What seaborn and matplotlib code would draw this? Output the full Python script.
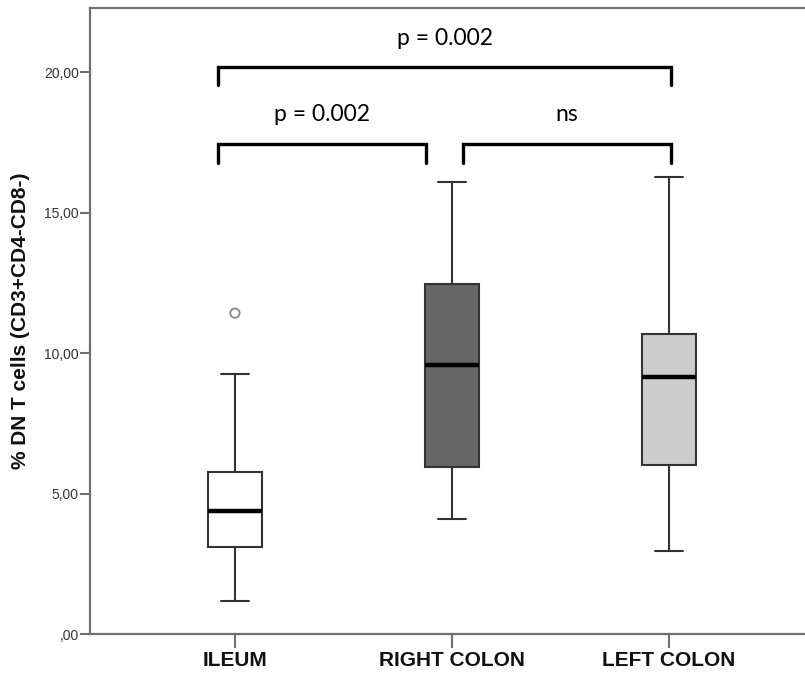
import numpy as np
import pandas as pd
import matplotlib
matplotlib.use("Agg")
import matplotlib.pyplot as plt
import seaborn as sns

# ---- data ----
categories = ["ILEUM", "RIGHT COLON", "LEFT COLON"]
whisker_low = [1.17, 4.09, 2.95]
q1 = [3.10, 5.94, 6.01]
median = [4.38, 9.57, 9.15]
q3 = [5.77, 12.46, 10.68]
whisker_high = [9.25, 16.09, 16.26]
outlier_group = ["ILEUM"]
outlier_value = [11.42]
box_colors = ["#ffffff", "#666666", "#cccccc"]
ytick_values = [0, 5, 10, 15, 20]
ytick_labels = [",00", "5,00", "10,00", "15,00", "20,00"]
ylabel = "% DN T cells (CD3+CD4-CD8-)"

# comparisons: (left category idx, right category idx, label, level)
comparisons = [
    (0, 2, "p = 0.002", "top"),
    (0, 0.88, "p = 0.002", "low"),
    (1.05, 2, "ns", "low"),
]

rows = []
for c, lo, a, m, b, hi in zip(categories, whisker_low, q1, median, q3, whisker_high):
    for v in (lo, a, m, b, hi):
        rows.append({"site": c, "value": v})
df = pd.DataFrame(rows)
df_out = pd.DataFrame({"site": outlier_group, "value": outlier_value})

sns.set_style("white")
plt.rcParams["font.family"] = ["Liberation Sans", "DejaVu Sans"]

W, H = 805, 674
fig = plt.figure(figsize=(W / 100, H / 100), dpi=100)
ax = fig.add_axes([90 / W, 40 / H, 730 / W, 626 / H])

sns.boxplot(
    data=df, x="site", y="value", order=categories, hue="site",
    hue_order=categories, palette=box_colors, legend=False,
    width=0.25, whis=np.inf, linewidth=1.5, linecolor="#333333",
    medianprops=dict(color="black", linewidth=3.2),
    ax=ax,
)
sns.scatterplot(
    data=df_out, x="site", y="value", ax=ax, marker="o", s=45,
    facecolor="none", edgecolor="#888888", linewidth=1.3, zorder=5,
)

ax.set_xlim(-0.668, 2.696)
ax.set_ylim(0, 22.28)
ax.set_yticks(ytick_values)
ax.set_yticklabels(ytick_labels)
ax.set_xlabel("")
ax.set_ylabel(ylabel, fontsize=15, fontweight="bold", labelpad=10, color="#111111")

for s in ax.spines.values():
    s.set_color("#707070")
    s.set_linewidth(1.6)
ax.tick_params(axis="y", direction="out", length=7, width=1.5, color="#707070",
               labelsize=10, labelcolor="#333333", pad=1, left=True)
ax.tick_params(axis="x", direction="out", length=10, width=1.5, color="#707070",
               labelsize=15, pad=2, bottom=True)
for lab in ax.get_xticklabels():
    lab.set_fontweight("bold")
    lab.set_color("#111111")

# significance brackets
levels = {"top": (20.18, 19.54, 21.2), "low": (17.44, 16.76, 18.5)}
for x0, x1, label, lev in comparisons:
    yl, yd, yt = levels[lev]
    xa = x0 - 0.078 if x0 == 0 else x0
    xb = x1 + 0.01 if x1 == 2 else x1
    ax.plot([xa, xa, xb, xb], [yd, yl, yl, yd], color="black", lw=2.4,
            solid_joinstyle="miter", clip_on=False)
    ax.text((xa + xb) / 2, yt, label, ha="center", va="center",
            fontsize=16.5, family=["Lato", "DejaVu Sans"], color="black")

fig.savefig("out.png", dpi=100, facecolor="white")
